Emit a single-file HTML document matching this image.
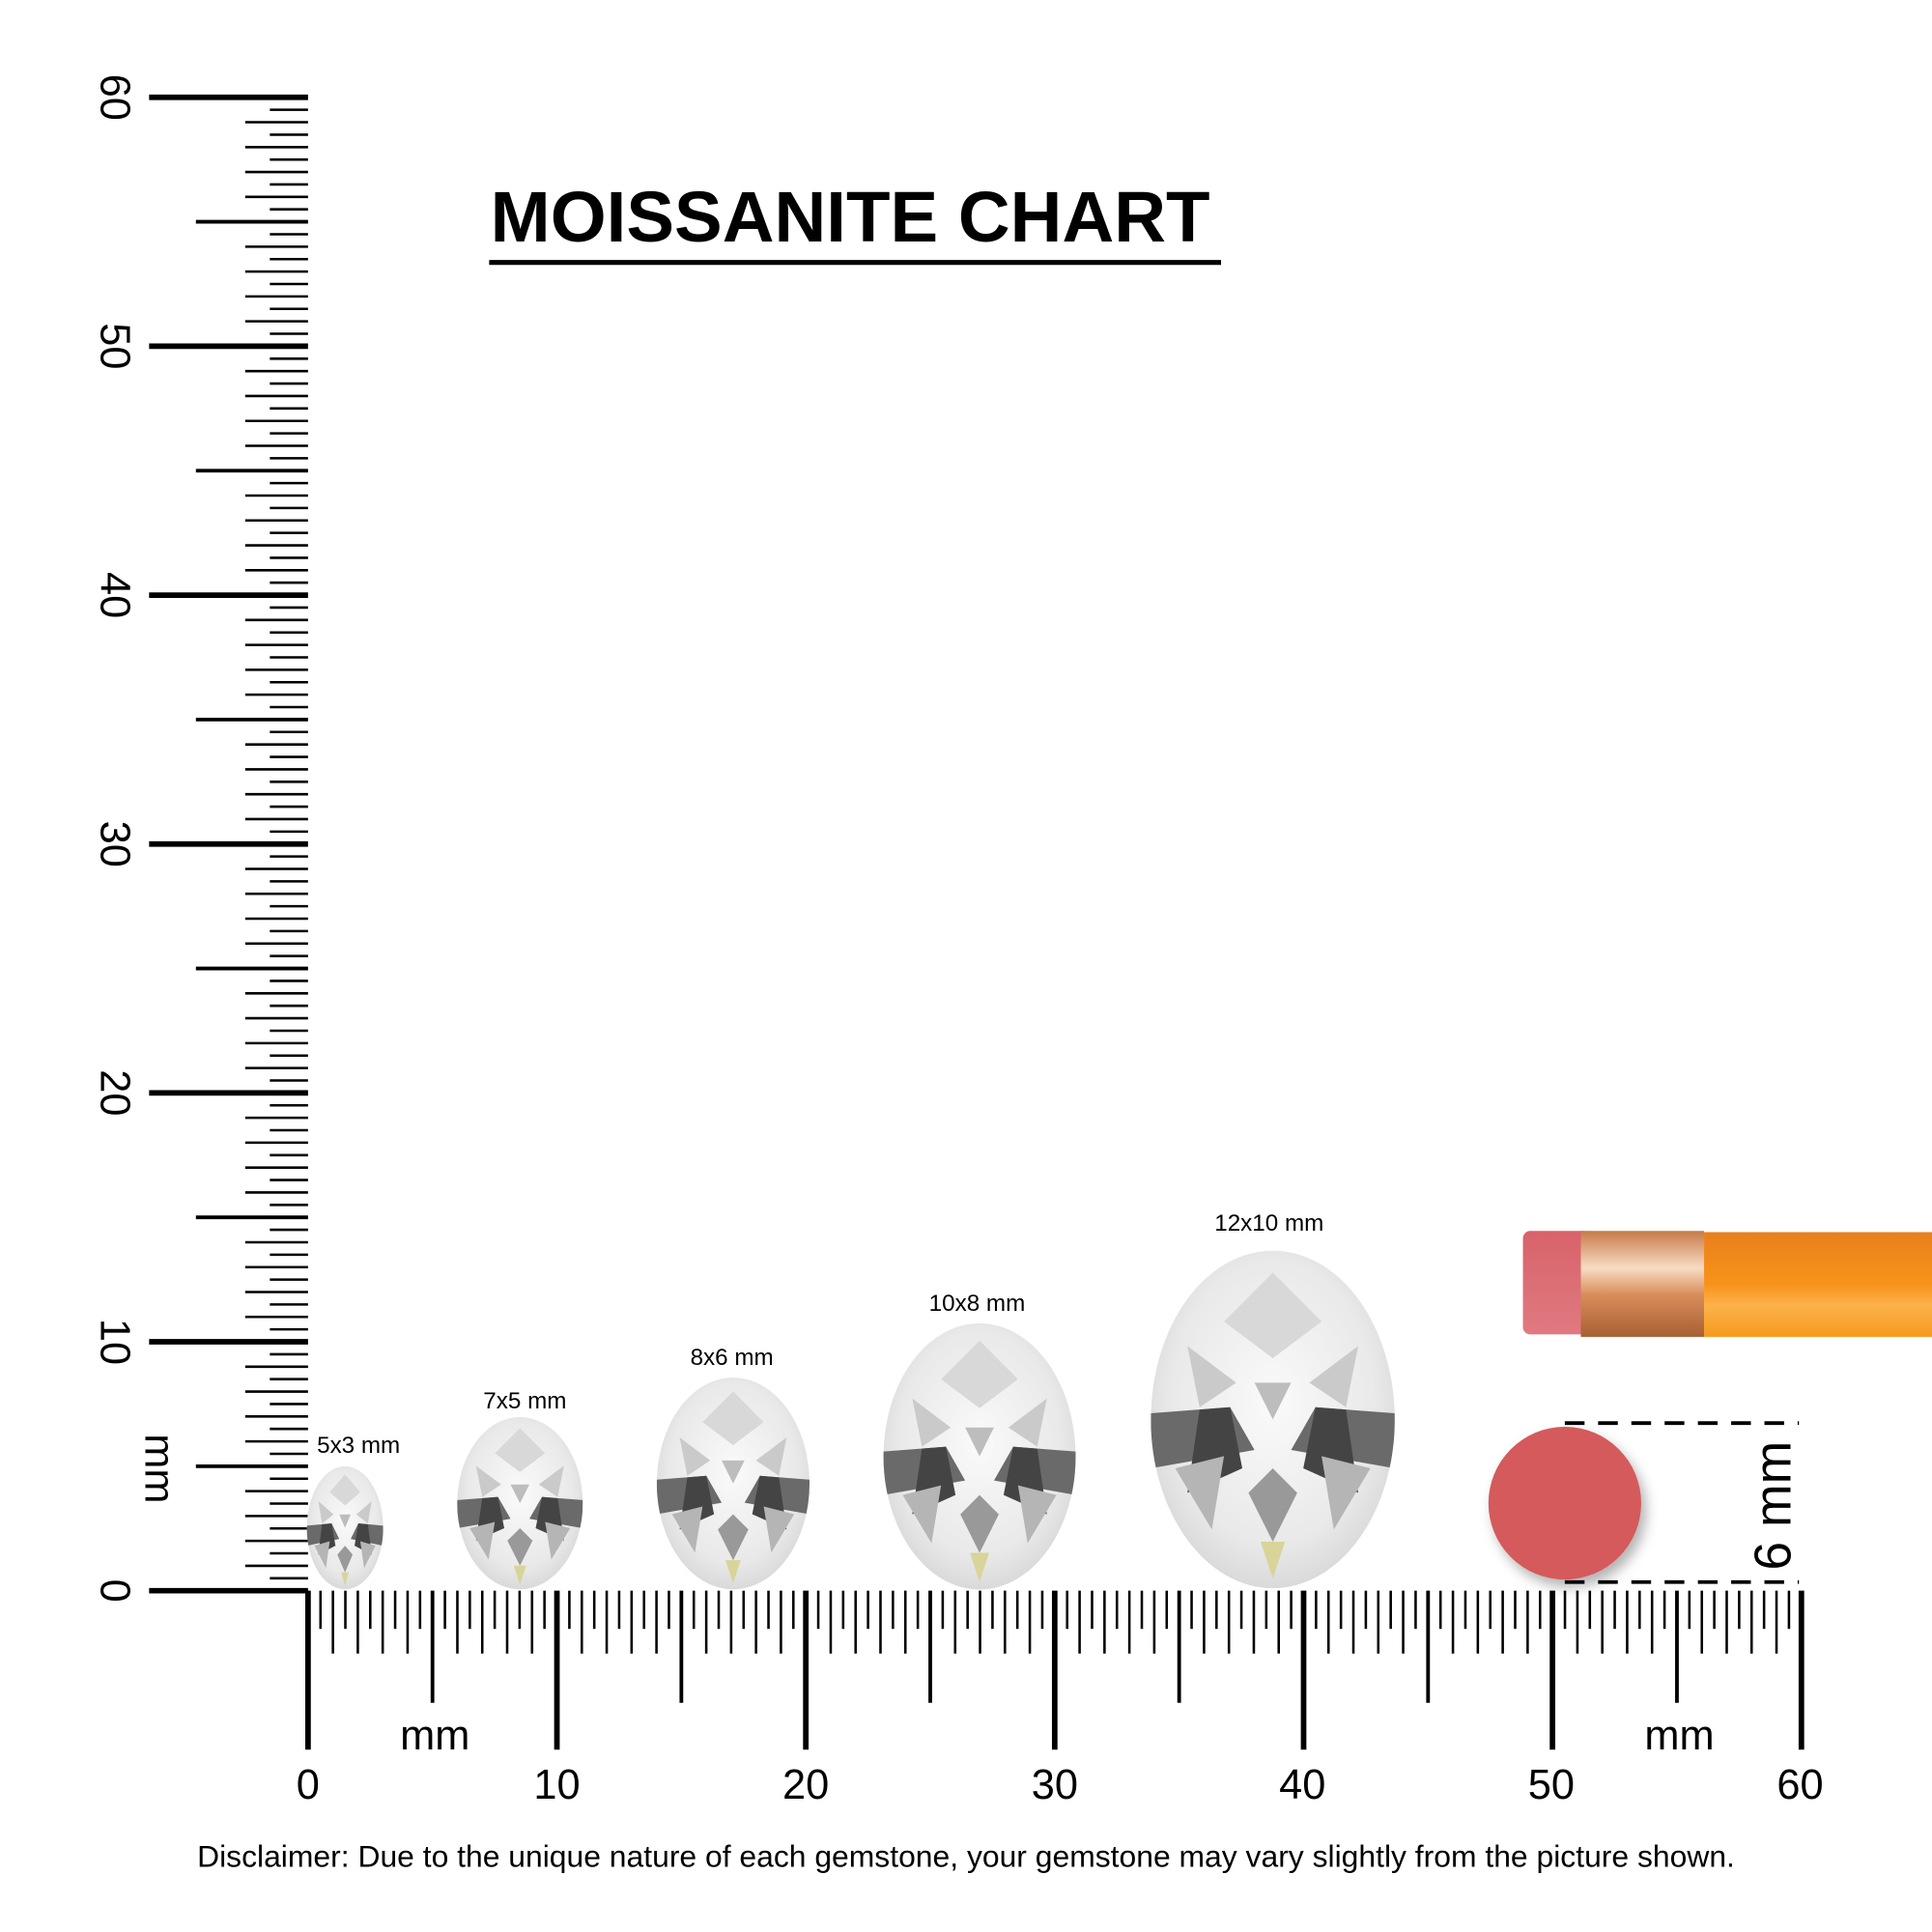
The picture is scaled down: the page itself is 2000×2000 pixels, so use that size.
<!DOCTYPE html>
<html><head><meta charset="utf-8"><style>
html,body{margin:0;padding:0;background:#fff;}
svg{display:block;}
</style></head><body>
<svg id="s" width="2000" height="2000" viewBox="0 0 1568 1568" xmlns="http://www.w3.org/2000/svg">
<defs>
<clipPath id="gc"><ellipse cx="0" cy="0" rx="100" ry="138"/></clipPath>
<radialGradient id="gg" cx="50%" cy="45%" r="60%">
<stop offset="0" stop-color="#fafafa"/><stop offset="0.7" stop-color="#e9e9e9"/><stop offset="1" stop-color="#d4d4d4"/>
</radialGradient>
<linearGradient id="pen" x1="0" y1="0" x2="0" y2="1">
<stop offset="0" stop-color="#e8801c"/><stop offset="0.5" stop-color="#f7931a"/><stop offset="0.7" stop-color="#fcb24a"/><stop offset="1" stop-color="#f59a1e"/>
</linearGradient>
<linearGradient id="fer" x1="0" y1="0" x2="0" y2="1">
<stop offset="0" stop-color="#c77a48"/><stop offset="0.35" stop-color="#f7dcc4"/><stop offset="0.6" stop-color="#d98e5a"/><stop offset="1" stop-color="#a85f34"/>
</linearGradient>
<linearGradient id="era" x1="0" y1="0" x2="0" y2="1">
<stop offset="0" stop-color="#d8626a"/><stop offset="1" stop-color="#e07a80"/>
</linearGradient>
<filter id="sh" x="-30%" y="-30%" width="160%" height="160%"><feDropShadow dx="4" dy="6" stdDeviation="5" flood-color="#000" flood-opacity="0.3"/></filter>
<g id="gem">
<g clip-path="url(#gc)">
<ellipse cx="0" cy="0" rx="100" ry="138" fill="url(#gg)"/>
<polygon points="-100,-5 -35,-10 -15,25 -100,40" fill="#6a6a6a"/>
<polygon points="100,-5 35,-10 15,25 100,40" fill="#6a6a6a"/>
<polygon points="-60,-8 -35,-10 -25,40 -70,60" fill="#444"/>
<polygon points="60,-8 35,-10 25,40 70,60" fill="#444"/>
<polygon points="-80,40 -40,30 -50,90" fill="#b5b5b5"/>
<polygon points="80,40 40,30 50,90" fill="#b5b5b5"/>
<polygon points="-20,60 0,40 20,60 0,100" fill="#999"/>
<polygon points="-10,100 10,100 0,130" fill="#d8d49a"/>
<polygon points="-40,-80 0,-50 40,-80 0,-120" fill="#d8d8d8"/>
<polygon points="-70,-60 -30,-30 -60,-10" fill="#cacaca"/>
<polygon points="70,-60 30,-30 60,-10" fill="#cacaca"/>
<polygon points="-15,-30 15,-30 0,0" fill="#bdbdbd"/>
</g>
</g>
</defs>
<g id="ticks" stroke="#000"></g>
<g font-family="Liberation Sans, sans-serif" font-size="34" fill="#000" text-anchor="middle">
<text x="250" y="1460">0</text><text x="452" y="1460">10</text><text x="654" y="1460">20</text><text x="856" y="1460">30</text><text x="1057" y="1460">40</text><text x="1259" y="1460">50</text><text x="1461" y="1460">60</text>
<text x="353" y="1420">mm</text><text x="1363" y="1420">mm</text>
<g id="vl"></g>
<text transform="translate(118,1192) rotate(90)">mm</text>
<text font-size="42" transform="translate(1453,1222) rotate(-90)">6 mm</text>
</g>
<text x="398" y="196" font-family="Liberation Sans, sans-serif" font-weight="bold" font-size="58" textLength="584" lengthAdjust="spacingAndGlyphs">MOISSANITE CHART</text>
<rect x="397" y="211" width="594" height="4" fill="#000"/>
<g font-family="Liberation Sans, sans-serif" font-size="19" text-anchor="middle" fill="#000">
<text x="291" y="1179">5x3 mm</text><text x="426" y="1143">7x5 mm</text><text x="594" y="1108">8x6 mm</text><text x="793" y="1064">10x8 mm</text><text x="1030" y="999">12x10 mm</text>
</g>
<use href="#gem" transform="translate(280,1240) scale(0.31,0.362)"/>
<use href="#gem" transform="translate(422,1220) scale(0.51,0.507)"/>
<use href="#gem" transform="translate(595,1204) scale(0.62,0.623)"/>
<use href="#gem" transform="translate(795,1182) scale(0.78,0.783)"/>
<use href="#gem" transform="translate(1033,1152) scale(0.99,0.993)"/>
<rect x="1236" y="999" width="55" height="84" rx="6" fill="url(#era)"/>
<rect x="1283" y="999" width="100" height="86" fill="url(#fer)"/>
<rect x="1383" y="1000" width="185" height="85" fill="url(#pen)"/>
<circle cx="1270" cy="1220" r="62" fill="#d45a5c" filter="url(#sh)"/>
<g stroke="#000" stroke-width="3" stroke-dasharray="16,11">
<line x1="1270" y1="1155" x2="1460" y2="1155"/><line x1="1270" y1="1284" x2="1460" y2="1284"/>
</g>
<text x="784" y="1515" font-family="Liberation Sans, sans-serif" font-size="24.5" text-anchor="middle" fill="#000" textLength="1248" lengthAdjust="spacingAndGlyphs">Disclaimer: Due to the unique nature of each gemstone, your gemstone may vary slightly from the picture shown.</text>
</svg>
<script>
var NS="http://www.w3.org/2000/svg",g=document.getElementById("ticks"),vl=document.getElementById("vl");
function L(x1,y1,x2,y2,w){var l=document.createElementNS(NS,"line");l.setAttribute("x1",x1);l.setAttribute("y1",y1);l.setAttribute("x2",x2);l.setAttribute("y2",y2);l.setAttribute("stroke-width",w);g.appendChild(l);}
var u=20.2;
for(var i=0;i<=120;i++){var mm=i/2,p=mm*u;var len,w;
 if(i%20==0){len=129;w=4.5;}else if(i%10==0){len=91;w=3;}else if(i%2==0){len=51;w=2;}else{len=31;w=2;}
 var x=250+p; L(x,1291,x,1291+len,w);
 var y=1291-p; L(250,y,250-len,y,w);
 if(i%20==0){var t=document.createElementNS(NS,"text");t.setAttribute("transform","translate(82,"+y+") rotate(90)");t.textContent=String(mm);vl.appendChild(t);}
}
</script>
</body></html>
